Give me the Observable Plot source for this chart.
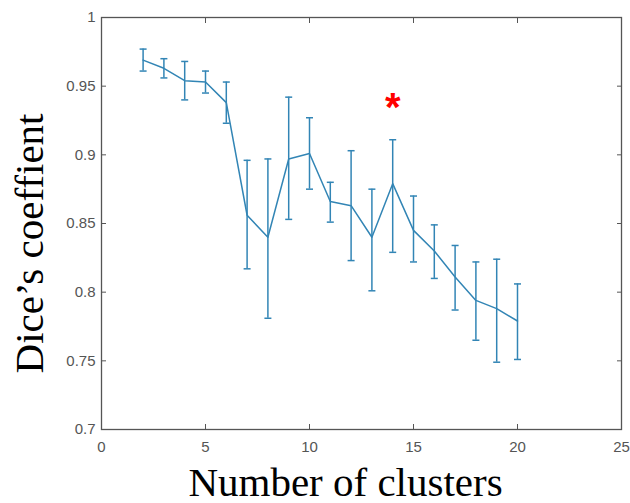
<!DOCTYPE html>
<html>
<head>
<meta charset="utf-8">
<script src="https://cdn.jsdelivr.net/npm/d3@7"></script>
<script src="https://cdn.jsdelivr.net/npm/@observablehq/plot@0.6"></script>
<style>
  html, body { margin: 0; padding: 0; background: #fff; }
  #chart svg { display: block; }
</style>
</head>
<body>
<div id="chart"></div>
<script>
// ---- data ----
const clusters = [2, 3, 4, 5, 6, 7, 8, 9, 10, 11, 12, 13, 14, 15, 16, 17, 18, 19, 20];
const diceMean = [0.969, 0.963, 0.954, 0.953, 0.938, 0.856, 0.840, 0.897, 0.901, 0.866, 0.863, 0.840, 0.879, 0.845, 0.830, 0.811, 0.794, 0.788, 0.779];
const diceUpper = [0.977, 0.970, 0.968, 0.961, 0.953, 0.896, 0.897, 0.942, 0.927, 0.880, 0.903, 0.875, 0.911, 0.870, 0.849, 0.834, 0.822, 0.824, 0.806];
const diceLower = [0.961, 0.956, 0.940, 0.945, 0.923, 0.817, 0.781, 0.853, 0.875, 0.851, 0.823, 0.801, 0.829, 0.822, 0.810, 0.787, 0.765, 0.749, 0.751];

const starX = [14];
const starY = [0.941];
const starText = ["*"];

const xTicks = [0, 5, 10, 15, 20, 25];
const xTickLabels = ["0", "5", "10", "15", "20", "25"];
const xInnerTicks = [5, 10, 15, 20];
const yTicks = [0.7, 0.75, 0.8, 0.85, 0.9, 0.95, 1];
const yTickLabels = ["0.7", "0.75", "0.8", "0.85", "0.9", "0.95", "1"];
const yInnerTicks = [0.75, 0.8, 0.85, 0.9, 0.95];

const xLabel = ["Number of clusters"];
const yLabel = ["Dice\u2019s coeffient"];

// ---- build table ----
const rows = clusters.map((k, i) => ({k, m: diceMean[i], hi: diceUpper[i], lo: diceLower[i]}));
const star = starX.map((x, i) => ({x, y: starY[i], t: starText[i]}));

const lineColor = "#3285b5";
const axisColor = "#555";
const capSymbol = {
  draw(context) {
    context.moveTo(-3.5, 0);
    context.lineTo(3.5, 0);
  }
};
const blank = () => "";

const chart = Plot.plot({
  width: 630,
  height: 503,
  marginLeft: 101,
  marginRight: 9,
  marginTop: 17,
  marginBottom: 74,
  style: {fontFamily: "'Liberation Sans', Arial, sans-serif", background: "#fff"},
  x: {domain: [0, 25]},
  y: {domain: [0.7, 1]},
  marks: [
    // tick labels
    Plot.axisX(xTicks, {anchor: "bottom", tickSize: 0, tickPadding: 12, fontSize: 15, fill: axisColor,
      tickFormat: d => xTickLabels[xTicks.indexOf(d)], label: null}),
    Plot.axisY(yTicks, {anchor: "left", tickSize: 0, tickPadding: 6, fontSize: 15, fill: axisColor,
      tickFormat: d => yTickLabels[yTicks.indexOf(d)], label: null}),
    // inward ticks on all four sides
    Plot.axisX(xInnerTicks, {anchor: "bottom", tickSize: -5, stroke: axisColor, tickFormat: blank, label: null}),
    Plot.axisX(xInnerTicks, {anchor: "top", tickSize: -5, stroke: axisColor, tickFormat: blank, label: null}),
    Plot.axisY(yInnerTicks, {anchor: "left", tickSize: -5, stroke: axisColor, tickFormat: blank, label: null}),
    Plot.axisY(yInnerTicks, {anchor: "right", tickSize: -5, stroke: axisColor, tickFormat: blank, label: null}),
    Plot.frame({stroke: axisColor, strokeWidth: 1.3}),
    // error bars
    Plot.ruleX(rows, {x: "k", y1: "lo", y2: "hi", stroke: lineColor, strokeWidth: 1.5}),
    Plot.dot(rows, {x: "k", y: "hi", symbol: capSymbol, fill: "none", stroke: lineColor, strokeWidth: 1.5}),
    Plot.dot(rows, {x: "k", y: "lo", symbol: capSymbol, fill: "none", stroke: lineColor, strokeWidth: 1.5}),
    // mean line
    Plot.line(rows, {x: "k", y: "m", stroke: lineColor, strokeWidth: 1.5}),
    // red asterisk
    Plot.text(star, {x: "x", y: "y", text: "t", fill: "red", fontSize: 40, fontWeight: "bold",
      lineAnchor: "middle", dy: 10}),
    // axis titles
    Plot.text(xLabel, {frameAnchor: "bottom", text: d => d, textAnchor: "middle", lineAnchor: "bottom", dy: 66, dx: -16,
      fontSize: 41, fontFamily: "'Liberation Serif', 'Times New Roman', serif", fill: "#000"}),
    Plot.text(yLabel, {frameAnchor: "left", text: d => d, textAnchor: "middle", rotate: -90, lineAnchor: "bottom", dx: -59, dy: 20,
      fontSize: 41, fontFamily: "'Liberation Serif', 'Times New Roman', serif", fill: "#000"})
  ]
});
document.getElementById("chart").appendChild(chart);
</script>
</body>
</html>
